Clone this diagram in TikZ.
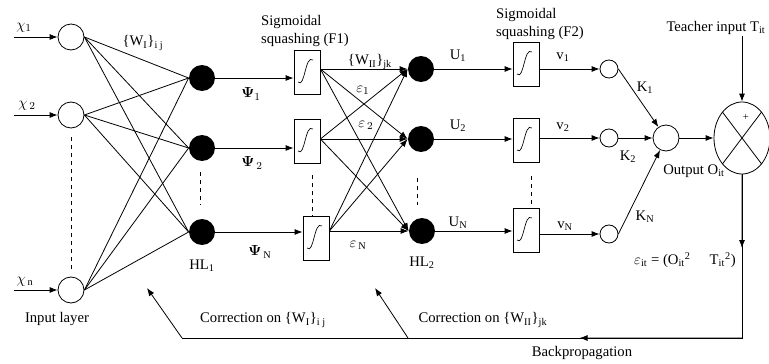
\documentclass[tikz,border=0pt]{standalone}
\usepackage{fontspec}
\usepackage{amsmath}
\setmainfont{Liberation Serif}
\usetikzlibrary{arrows.meta,calc,shapes.geometric}

\tikzset{
  inp/.style={draw,circle,minimum size=19.5pt,inner sep=0pt},
  hid/.style={circle,fill=black,minimum size=19.5pt,inner sep=0pt},
  sigbox/.style={draw,minimum width=19.5pt,minimum height=33pt,inner sep=0pt},
  outn/.style={draw,circle,minimum size=13.5pt,inner sep=0pt},
  txt/.style={inner sep=1pt}
}

\begin{document}
\begin{tikzpicture}[x=0.75pt,y=-0.75pt,line width=0.6pt,
    >={Latex[length=6pt,width=4.5pt]},
    every node/.style={font=\fontsize{11}{13}\selectfont}]
  \useasboundingbox (0,0) rectangle (769,364);

  % input layer
  \node[inp] (in1) at (71,37) {};
  \node[inp] (in2) at (71,115) {};
  \node[inp] (in3) at (71,290) {};
  \coordinate (s1) at (14,37);
  \coordinate (s2) at (14,115);
  \coordinate (s3) at (14,290);
  \node[txt] (x1) at (24,28) {$\chi_1$};
  \node[txt] (x2) at (27,106) {$\chi_{\,2}$};
  \node[txt] (x3) at (25,282) {$\chi_{\,\mathrm{n}}$};
  \node[txt] (inl) at (57,319) {Input layer};

  % hidden layer 1
  \node[hid] (ha1) at (202,78) {};
  \node[hid] (ha2) at (202,148) {};
  \node[hid] (ha3) at (202,232) {};
  \node[txt] (hal) at (202,266) {HL\textsubscript{1}};

  % squashing F1
  \node[sigbox] (fa1) at (307,72) {};
  \node[sigbox] (fa2) at (307,141) {};
  \node[sigbox] (fa3) at (316,238) {};
  \node[txt,align=left] (tfa) at (305,31) {Sigmoidal\\squashing (F1)};

  % hidden layer 2
  \node[hid] (hb1) at (421,69) {};
  \node[hid] (hb2) at (421,139) {};
  \node[hid] (hb3) at (422,231) {};
  \node[txt] (hbl) at (422,263) {HL\textsubscript{2}};

  % squashing F2
  \node[sigbox] (fb1) at (526,64) {};
  \node[sigbox] (fb2) at (526,140) {};
  \node[sigbox] (fb3) at (526,230) {};
  \node[txt,align=left] (tfb) at (540,24) {Sigmoidal\\squashing (F2)};

  % output side
  \node[outn] (o1) at (609,69) {};
  \node[outn] (o2) at (609,138) {};
  \node[outn] (o3) at (609,234) {};
  \node[inp] (out) at (666,138) {};
  \node[draw,ellipse,minimum width=42pt,minimum height=54pt,inner sep=0pt] (cmp) at (742,138) {};
  \node[txt] (tT) at (716,28) {Teacher input T\textsubscript{it}};
  \node[txt] (tO) at (694,171) {Output O\textsubscript{it}};
  \node[txt,font=\fontsize{8}{9}\selectfont] (plus) at (746,117) {+};
  \node[txt] (err) at (685,260) {$\varepsilon$\textsubscript{it} = (O\textsubscript{it}\textsuperscript{2}\hspace{1.3em}T\textsubscript{it}\textsuperscript{2})};

  % labels on links
  \node[txt] (wI) at (143,43) {\{W\textsubscript{I}\}\textsubscript{i j}};
  \node[txt] (wII) at (370,62) {\{W\textsubscript{II}\}\textsubscript{jk}};
  \node[txt] (p1) at (251,94) {$\boldsymbol{\Psi}_1$};
  \node[txt] (p2) at (252,163) {$\boldsymbol{\Psi}_{\,2}$};
  \node[txt] (p3) at (260,252) {$\boldsymbol{\Psi}_{\,\mathrm{N}}$};
  \node[txt] (e1) at (363,90) {$\varepsilon_1$};
  \node[txt] (e2) at (366,125) {$\varepsilon_{\,2}$};
  \node[txt] (e3) at (358,245) {$\varepsilon_{\,\mathrm{N}}$};
  \node[txt] (u1) at (458,56) {U\textsubscript{1}};
  \node[txt] (u2) at (458,126) {U\textsubscript{2}};
  \node[txt] (u3) at (458,223) {U\textsubscript{N}};
  \node[txt] (v1) at (563,57) {v\textsubscript{1}};
  \node[txt] (v2) at (563,127) {v\textsubscript{2}};
  \node[txt] (v3) at (565,226) {v\textsubscript{N}};
  \node[txt] (k1) at (645,88) {K\textsubscript{1}};
  \node[txt] (k2) at (628,157) {K\textsubscript{2}};
  \node[txt] (k3) at (645,217) {K\textsubscript{N}};

  % sigmoid curves
  \foreach \b in {fa1,fa2,fa3,fb1,fb2,fb3}
    \draw[line width=0.5pt] ([shift={(-9,10)}]\b.center) .. controls ([shift={(-2,17)}]\b.center) and ([shift={(-2,-18)}]\b.center) .. ([shift={(6,-12)}]\b.center);

  % inputs
  \foreach \i in {1,2,3}
    \draw[->] (s\i) -- (in\i);
  \foreach \i in {1,2,3}
    \foreach \j in {1,2,3}
      \draw (in\i.east) -- (ha\j.west);

  % hidden 1 -> F1 -> hidden 2
  \foreach \i in {1,2,3} {
    \draw[->] (ha\i.east) -- (ha\i -| fa\i.west);
    \foreach \j in {1,2,3}
      \draw[->] (fa\i.east |- hb\i) -- (hb\j.west);
    \draw[->] (hb\i.east) -- (hb\i -| fb\i.west);
    \draw[->] (fb\i.east |- o\i) -- (o\i);
  }
  \draw[->] (o1.east) -- (out);
  \draw[->] (o2) -- (out);
  \draw[->] (o3.east) -- (out);
  \draw[->] (out) -- (cmp);
  \draw[->] (tT.south -| cmp) -- (cmp);
  \draw (cmp.53) -- (cmp.233);
  \draw (cmp.127) -- (cmp.-53);

  % dashed gaps
  \draw[dashed] (71,137) -- (71,270);
  \draw[dashed] (200,172) -- (200,205);
  \draw[dashed] (312,175) -- (312,216);
  \draw[dashed] (417,178) -- (417,205);
  \draw[dashed] (531,176) -- (531,206);

  % backpropagation
  \coordinate (bR) at (742,338);
  \coordinate (bM) at (408,338);
  \coordinate (bL) at (182,338);
  \coordinate (c1) at (147,288);
  \coordinate (c2) at (375,288);
  \draw (cmp.south) -- (bR) -- (bL);
  \draw[->] (cmp.south) -- ($(cmp.south)!0.45!(bR)$);
  \draw[->] (bR) -- ($(bR)!0.29!(bL)$);
  \draw[->] (bL) -- (c1);
  \draw[->] (bM) -- (c2);
  \node[txt] (cI) at (263,320) {Correction on \{W\textsubscript{I}\}\textsubscript{i j}};
  \node[txt] (cII) at (483,320) {Correction on \{W\textsubscript{II}\}\textsubscript{jk}};
  \node[txt] (bp) at (582,353) {Backpropagation};
\end{tikzpicture}
\end{document}
